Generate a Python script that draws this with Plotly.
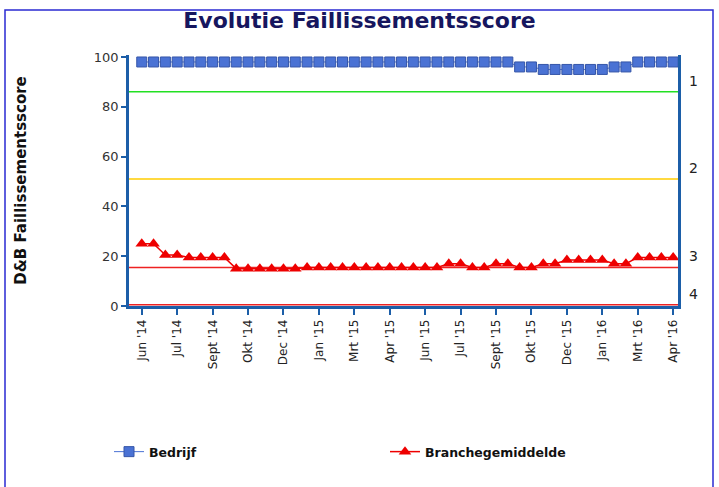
import plotly.graph_objects as go

# ---------------- data ----------------
periods = list(range(46))
tick_index = [0, 3, 6, 9, 12, 15, 18, 21, 24, 27, 30, 33, 36, 39, 42, 45]
tick_labels = ["Jun '14", "Jul '14", "Sept '14", "Okt '14", "Dec '14", "Jan '15",
               "Mrt '15", "Apr '15", "Jun '15", "Jul '15", "Sept '15", "Okt '15",
               "Dec '15", "Jan '16", "Mrt '16", "Apr '16"]

bedrijf = [98, 98, 98, 98, 98, 98, 98, 98, 98, 98,
           98, 98, 98, 98, 98, 98, 98, 98, 98, 98,
           98, 98, 98, 98, 98, 98, 98, 98, 98, 98,
           98, 98, 96, 96, 95, 95, 95, 95, 95, 95,
           96, 96, 98, 98, 98, 98]

branche = [25, 25, 20.5, 20.5, 19.5, 19.5, 19.5, 19.5, 15, 15,
           15, 15, 15, 15, 15.5, 15.5, 15.5, 15.5, 15.5, 15.5,
           15.5, 15.5, 15.5, 15.5, 15.5, 15.5, 17, 17, 15.5, 15.5,
           17, 17, 15.5, 15.5, 17, 17, 18.5, 18.5, 18.5, 18.5,
           17, 17, 19.5, 19.5, 19.5, 19.5]

class_bounds = [86, 51, 15.5, 0.5]
class_labels = ["1", "2", "3", "4"]
class_colors = ["#22e022", "#ffcc00", "#ee2222", "#ee2222"]

y_ticks = [0, 20, 40, 60, 80, 100]

# ---------------- figure ----------------
W, H = 719, 487
ML, MR, MT, MB = 129, 41, 55, 181
axis_blue = "#1c5ea8"
font = "DejaVu Sans"

fig = go.Figure()

for b, c in zip(class_bounds, class_colors):
    fig.add_shape(type="line", xref="paper", x0=0, x1=1, yref="y", y0=b, y1=b,
                  line=dict(color=c, width=1.5), layer="below")

fig.add_trace(go.Scatter(
    x=periods, y=bedrijf, name="<b>Bedrijf</b>", mode="lines+markers",
    line=dict(color="#4a72d4", width=1),
    marker=dict(symbol="square", size=10, color="#4a72d4",
                line=dict(color="#3656a8", width=1)),
))
fig.add_trace(go.Scatter(
    x=periods, y=branche, name="<b>Branchegemiddelde</b>", mode="lines+markers",
    line=dict(color="#ee0000", width=1.5),
    marker=dict(symbol="triangle-up", size=11, color="#ee0000",
                line=dict(color="#ee0000", width=0)),
))

for b, lab in zip(class_bounds, class_labels):
    fig.add_annotation(text=lab, xref="paper", x=1, xshift=15, xanchor="center",
                       yref="y", y=b, yshift=11, yanchor="middle", showarrow=False,
                       font=dict(family=font, size=14, color="#222222"))

pw = W - ML - MR
ph = H - MT - MB

# outer frame
fig.add_shape(type="rect", xref="paper", yref="paper",
              x0=(5 - ML) / pw, x1=(713 - ML) / pw,
              y0=(H - MB - 500) / ph, y1=(H - MB - 10) / ph,
              line=dict(color="#2a2ad2", width=1.5), fillcolor="rgba(0,0,0,0)")

fig.update_layout(
    width=W, height=H, autosize=False,
    margin=dict(l=ML, r=MR, t=MT, b=MB, pad=0),
    paper_bgcolor="white", plot_bgcolor="white",
    title=dict(text="<b>Evolutie Faillissementsscore</b>", x=0.5, xref="container",
               xanchor="center", y=1 - 20 / H, yanchor="middle",
               font=dict(family=font, size=22, color="#16165e")),
    font=dict(family=font, size=12, color="#222222"),
    showlegend=True,
    legend=dict(orientation="h", x=(109 - ML) / pw, xanchor="left",
                y=(H - MB - 452) / ph, yanchor="middle",
                entrywidth=231, entrywidthmode="pixels", itemwidth=30,
                font=dict(family=font, size=12.5, color="#111111"),
                bgcolor="rgba(0,0,0,0)", borderwidth=0),
    xaxis=dict(range=[-1.08, 45.41], tickmode="array", tickvals=tick_index,
               ticktext=tick_labels, tickangle=-90, showgrid=False, zeroline=False,
               showline=True, linecolor=axis_blue, linewidth=2.5, mirror=False,
               ticks="outside", ticklen=6, tickwidth=1.5, tickcolor=axis_blue,
               tickfont=dict(family=font, size=12, color="#222222")),
    yaxis=dict(range=[0, 100.8], tickmode="array", tickvals=y_ticks,
               showgrid=False, zeroline=False,
               showline=True, linecolor=axis_blue, linewidth=2.5, mirror=True,
               ticks="outside", ticklen=5, tickwidth=1.5, tickcolor=axis_blue,
               tickfont=dict(family=font, size=13, color="#333333"),
               title=dict(text="<b>D&B Faillissementsscore</b>", standoff=64,
                          font=dict(family=font, size=15, color="#111111"))),
)

fig.write_html("out.html", config={"displayModeBar": False},
               post_script="document.body.style.margin='0';")
